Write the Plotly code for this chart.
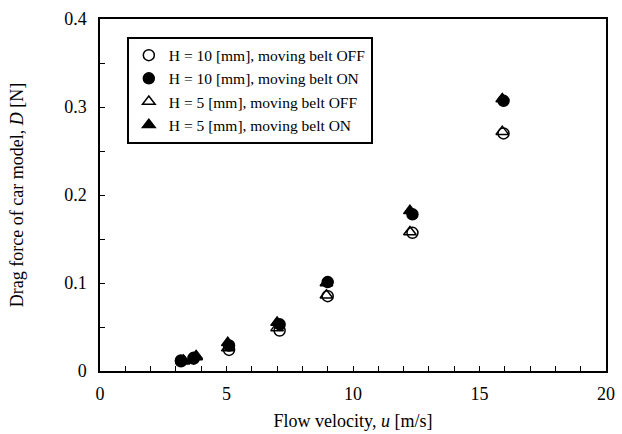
import plotly.graph_objects as go

# Data
u_h10 = [3.2, 3.7, 5.1, 7.1, 9.0, 12.35, 15.95]
d_h10_off = [0.011, 0.014, 0.024, 0.046, 0.085, 0.157, 0.270]
d_h10_on = [0.012, 0.015, 0.029, 0.053, 0.101, 0.178, 0.307]

u_h5 = [3.3, 3.8, 5.05, 7.0, 8.95, 12.25, 15.9]
d_h5_off = [0.011, 0.016, 0.026, 0.049, 0.086, 0.158, 0.272]
d_h5_on = [0.012, 0.017, 0.032, 0.055, 0.100, 0.182, 0.309]

names = [
    "H = 10 [mm], moving belt OFF",
    "H = 10 [mm], moving belt ON",
    "H = 5 [mm], moving belt OFF",
    "H = 5 [mm], moving belt ON",
]

x_ticks = [0, 5, 10, 15, 20]
y_ticks = [0, 0.1, 0.2, 0.3, 0.4]
y_ticktext = ["0", "0.1", "0.2", "0.3", "0.4"]

FONT = "Liberation Serif, Times New Roman, serif"

fig = go.Figure()
series = [
    (u_h10, d_h10_off, "circle-open", names[0]),
    (u_h10, d_h10_on, "circle", names[1]),
    (u_h5, d_h5_off, "triangle-up-open", names[2]),
    (u_h5, d_h5_on, "triangle-up", names[3]),
]
for x, y, sym, nm in series:
    fig.add_trace(go.Scatter(
        x=x, y=y, mode="markers", name=nm,
        marker=dict(symbol=sym, size=11, color="black",
                    line=dict(color="black", width=1.5)),
    ))

fig.update_layout(
    width=622, height=434,
    margin=dict(l=100, r=16, t=19, b=63),
    paper_bgcolor="white", plot_bgcolor="white",
    font=dict(family=FONT, size=18, color="black"),
    showlegend=True,
    legend=dict(
        x=0.053, y=0.95, xanchor="left", yanchor="top",
        bordercolor="black", borderwidth=2, bgcolor="white",
        font=dict(family=FONT, size=15.5, color="black"),
        itemwidth=30, tracegroupgap=0,
    ),
)
fig.update_xaxes(
    range=[0, 20], tickvals=x_ticks,
    ticks="inside", ticklen=5, tickwidth=1, tickcolor="black",
    minor=dict(dtick=1, ticks="inside", ticklen=5, tickcolor="black"),
    showline=True, linecolor="black", linewidth=1.5, mirror=True,
    showgrid=False, zeroline=False, ticklabelstandoff=6,
    title=dict(text="Flow velocity, <i>u</i> [m/s]", standoff=11,
               font=dict(family=FONT, size=18)),
    tickfont=dict(family=FONT, size=18),
    automargin=False,
)
fig.update_yaxes(
    range=[0, 0.4], tickvals=y_ticks, ticktext=y_ticktext,
    ticks="inside", ticklen=5, tickwidth=1, tickcolor="black",
    minor=dict(dtick=0.05, ticks="inside", ticklen=5, tickcolor="black"),
    showline=True, linecolor="black", linewidth=1.5, mirror=True,
    showgrid=False, zeroline=False, ticklabelstandoff=8,
    title=dict(text="Drag force of car model, <i>D</i> [N]", standoff=36,
               font=dict(family=FONT, size=18)),
    tickfont=dict(family=FONT, size=18),
    automargin=False,
)

fig.write_html("out.html")
